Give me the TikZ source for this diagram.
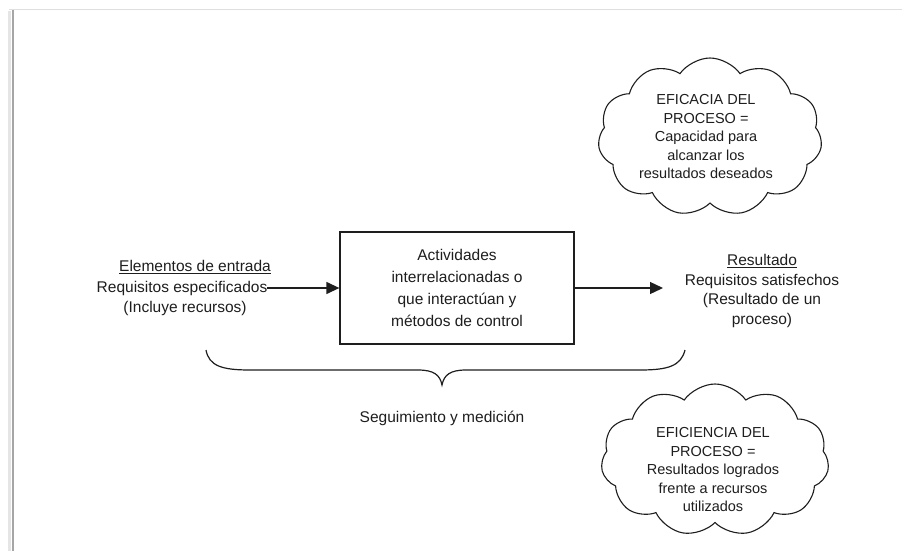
\documentclass[tikz,border=0pt]{standalone}
\usepackage{fontspec}
\setmainfont{Liberation Sans}
\usetikzlibrary{shapes.symbols,arrows.meta}
\definecolor{ink}{HTML}{1E1E1E}
\tikzset{
  txt/.style={text=ink, font=\fontsize{15.5}{20}\selectfont, inner sep=0pt, align=center},
  cloudtxt/.style={text=ink, font=\fontsize{14.5}{18.5}\selectfont, align=center},
  procbox/.style={draw=ink, line width=1.3pt, minimum width=234pt, minimum height=112pt, text=ink, font=\fontsize{15.5}{22}\selectfont, align=center},
  thought/.style={draw=ink, line width=1.1pt, cloud, cloud puffs=11, cloud puff arc=110, cloud ignores aspect, inner sep=0pt},
  flow/.style={draw=ink, line width=1.3pt, -{Triangle[length=13pt,width=12pt]}},
}
\begin{document}
\begin{tikzpicture}[x=1pt,y=-1pt]
\useasboundingbox (0,0) rectangle (902,551);
\fill[white] (0,0) rectangle (902,551);
% frame of the page
\draw[gray!20, line width=3pt] (9,11) -- (9,551);
\draw[gray!70, line width=2pt] (12.5,10) -- (12.5,551);
\draw[gray!25, line width=1.5pt] (9,9.5) -- (902,9.5);

% input texts
\node[txt] (elem) at (195,267) {\underline{Elementos de entrada}};
\node[txt] (req) at (182,288) {Requisitos especificados};
\node[txt] (incl) at (185,308) {(Incluye recursos)};

% process box
\node[procbox] (box) at (457,288) {Actividades\\interrelacionadas o\\que interactúan y\\métodos de control};

% output
\coordinate (outend) at (663,288);
\node[txt, font=\fontsize{15.5}{19.5}\selectfont] (res) at (762,291) {\underline{Resultado}\\Requisitos satisfechos\\(Resultado de un\\proceso)};

\draw[flow] (req.east) -- (box.west);
\draw[flow] (box.east) -- (outend);

% brace
\draw[ink, line width=1.2pt] (206,350) .. controls (209,366) and (222,370) .. (250,370)
  -- (418,370) .. controls (434,370) and (440,375) .. (442,385)
  .. controls (444,375) and (450,370) .. (466,370)
  -- (640,370) .. controls (668,370) and (681,366) .. (685,350);
\node[txt] (seg) at (442,418) {Seguimiento y medición};

% clouds
\node[thought, minimum width=224pt, minimum height=158pt] (c1) at (710,137) {};
\node[cloudtxt] (c1t) at (706,137) {EFICACIA DEL\\PROCESO =\\Capacidad para\\alcanzar los\\resultados deseados};
\node[thought, minimum width=228pt, minimum height=152pt] (c2) at (715,460) {};
\node[cloudtxt] (c2t) at (713,470) {EFICIENCIA DEL\\PROCESO =\\Resultados logrados\\frente a recursos\\utilizados};
\end{tikzpicture}
\end{document}
